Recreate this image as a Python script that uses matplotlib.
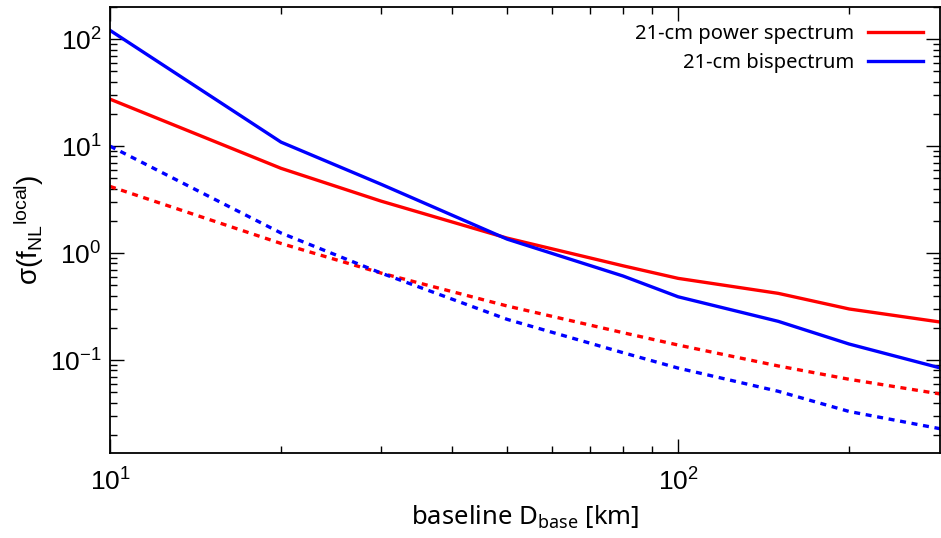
import matplotlib
matplotlib.use("Agg")
import matplotlib.pyplot as plt
from matplotlib.ticker import LogLocator, NullFormatter

# Data
baseline = [10, 20, 30, 50, 80, 100, 150, 200, 290]
ps_solid = [27.5, 6.2, 3.06, 1.38, 0.76, 0.58, 0.42, 0.30, 0.226]
bs_solid = [121, 10.9, 4.4, 1.35, 0.61, 0.39, 0.23, 0.141, 0.084]
ps_dotted = [4.2, 1.23, 0.65, 0.32, 0.18, 0.138, 0.088, 0.066, 0.048]
bs_dotted = [10.0, 1.54, 0.65, 0.24, 0.117, 0.084, 0.051, 0.033, 0.0227]

labels = ["21-cm power spectrum", "21-cm bispectrum"]

plt.rcParams['font.family'] = ['Liberation Sans', 'DejaVu Sans']
plt.rcParams['mathtext.fontset'] = 'custom'
plt.rcParams['mathtext.rm'] = 'Liberation Sans'
plt.rcParams['mathtext.it'] = 'Liberation Sans'
plt.rcParams['axes.unicode_minus'] = False

fig = plt.figure(figsize=(9.41, 5.38), dpi=100)
ax = fig.add_axes([110/941, 1-453/538, 830/941, 446/538])

lw = 2.4
dash = (0, (1.8, 1.7))
ax.plot(baseline, ps_solid, color='#ff0000', lw=lw, label=labels[0])
ax.plot(baseline, bs_solid, color='#0000ff', lw=lw, label=labels[1])
ax.plot(baseline, ps_dotted, color='#ff0000', lw=lw, ls=dash, dash_capstyle='butt')
ax.plot(baseline, bs_dotted, color='#0000ff', lw=lw, ls=dash, dash_capstyle='butt')

ax.set_xscale('log')
ax.set_yscale('log')
ax.set_xlim(10, 289)
ax.set_ylim(0.0135, 200)

ax.xaxis.set_major_locator(LogLocator(base=10, numticks=10))
ax.yaxis.set_major_locator(LogLocator(base=10, numticks=10))
ax.xaxis.set_minor_locator(LogLocator(base=10, subs=range(2, 10), numticks=20))
ax.yaxis.set_minor_locator(LogLocator(base=10, subs=range(2, 10), numticks=20))
ax.xaxis.set_minor_formatter(NullFormatter())
ax.yaxis.set_minor_formatter(NullFormatter())

ax.tick_params(which='both', direction='in', top=True, right=True, width=1, color='black')
ax.tick_params(which='major', length=10, labelsize=19)
ax.tick_params(axis='y', which='major', pad=6)
ax.tick_params(axis='x', which='major', pad=11)
ax.tick_params(which='minor', length=5)
for s in ax.spines.values():
    s.set_linewidth(1.3)

ax.set_xlabel('baseline D$_\\mathregular{base}$ [km]', fontsize=18.5, family=['Noto Sans', 'DejaVu Sans'], labelpad=6)
ax.set_ylabel('σ(f$_\\mathregular{NL}$$^\\mathregular{local}$)', fontsize=20, labelpad=3)

leg = ax.legend(loc='upper right', bbox_to_anchor=(0.997, 0.993), frameon=False,
                markerfirst=False, handlelength=2.75,
                handletextpad=0.7, labelspacing=0.42, borderaxespad=0.3,
                prop={'family': ['Noto Sans', 'DejaVu Sans'], 'size': 14.5})

fig.savefig('out.png', dpi=100)
